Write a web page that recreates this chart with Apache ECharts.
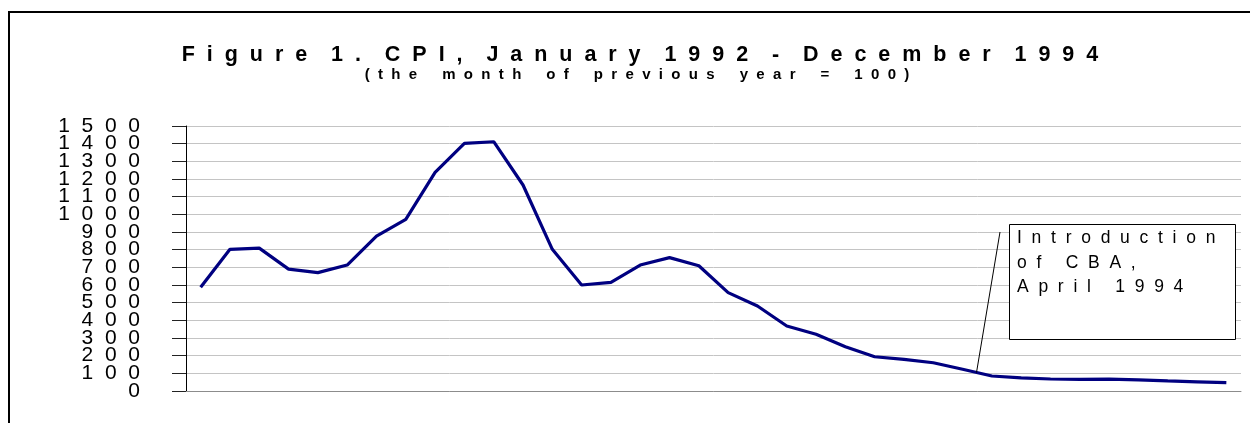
<!DOCTYPE html>
<html>
<head>
<meta charset="utf-8">
<title>CPI 1992-1994</title>
<script src="https://cdn.jsdelivr.net/npm/echarts@6/dist/echarts.min.js"></script>
<style>
  html, body { margin: 0; padding: 0; background: #fff; }
  #chart { width: 1250px; height: 423px; }
</style>
</head>
<body>
<div id="chart"></div>
<script>
// months Jan 1992 .. Dec 1994
var months = [
  '1992-01', '1992-02', '1992-03', '1992-04', '1992-05', '1992-06',
  '1992-07', '1992-08', '1992-09', '1992-10', '1992-11', '1992-12',
  '1993-01', '1993-02', '1993-03', '1993-04', '1993-05', '1993-06',
  '1993-07', '1993-08', '1993-09', '1993-10', '1993-11', '1993-12',
  '1994-01', '1994-02', '1994-03', '1994-04', '1994-05', '1994-06',
  '1994-07', '1994-08', '1994-09', '1994-10', '1994-11', '1994-12'
];
// CPI, same month of previous year = 100
var cpi = [
  587, 802, 809, 690, 670, 713, 877, 972, 1238, 1402, 1411, 1166,
  802, 600, 615, 713, 755, 709, 557, 481, 368, 321, 251, 194,
  179, 160, 123, 85, 74, 68, 66, 67, 63, 57, 52, 47
];
var yMin = 0;
var yMax = 1500;
var yStep = 100;
var yTicks = [0, 100, 200, 300, 400, 500, 600, 700, 800, 900, 1000, 1100, 1200, 1300, 1400, 1500];

var titleText = 'Figure 1. CPI, January 1992 - December 1994';
var subText = '(the month of previous year = 100)';
var noteLines = ['Introduction', 'of CBA,', 'April 1994'];

var fontFamily = '"Liberation Sans", Arial, sans-serif';

// the original has very wide letter spacing, imitate it with spaces
function spread(str, letterGap, wordGap) {
  return str.split(' ').map(function (w) {
    return w.split('').join(letterGap);
  }).join(wordGap);
}

var myChart = echarts.init(document.getElementById('chart'), null, { renderer: 'canvas' });

var option = {
  animation: false,
  backgroundColor: '#fff',
  grid: {
    left: 186,
    right: 9,
    top: 126,
    bottom: 32,
    containLabel: false
  },
  xAxis: {
    type: 'category',
    data: months,
    boundaryGap: true,
    axisLine: { show: true, onZero: true, lineStyle: { color: '#8c8c8c', width: 1 } },
    axisTick: { show: false },
    axisLabel: { show: false },
    splitLine: { show: false }
  },
  yAxis: {
    type: 'value',
    min: yMin,
    max: yMax,
    interval: yStep,
    axisLine: { show: true, lineStyle: { color: '#000', width: 1 } },
    axisTick: { show: true, inside: false, length: 14, lineStyle: { color: '#222' } },
    // the labels overlap each other in the original, echarts would drop some,
    // so they are drawn below as graphic texts at the axis positions
    axisLabel: { show: false },
    splitLine: { show: true, showMinLine: true, showMaxLine: true, lineStyle: { color: '#c4c4c4', width: 1 } }
  },
  series: [{
    name: 'CPI',
    type: 'line',
    data: cpi,
    symbol: 'none',
    smooth: false,
    lineStyle: { color: '#000080', width: 3.2 },
    itemStyle: { color: '#000080' },
    z: 3
  }],
  graphic: {
    elements: [
      {
        id: 'frame',
        type: 'rect',
        silent: true,
        z: 100,
        shape: { x: 9, y: 12, width: 1400, height: 600 },
        style: { fill: 'none', stroke: '#000', lineWidth: 2 }
      },
      {
        id: 'title',
        type: 'text',
        silent: true,
        z: 100,
        x: 640,
        y: 55,
        style: {
          text: spread(titleText, '  ', '    '),
          fill: '#000',
          fontSize: 21.5,
          fontWeight: 'bold',
          fontFamily: fontFamily,
          align: 'center',
          verticalAlign: 'middle',
          textAlign: 'center',
          textVerticalAlign: 'middle'
        }
      },
      {
        id: 'subtitle',
        type: 'text',
        silent: true,
        z: 100,
        x: 637,
        y: 75,
        style: {
          text: spread(subText, '  ', '      '),
          fill: '#000',
          fontSize: 15,
          fontWeight: 'bold',
          fontFamily: fontFamily,
          align: 'center',
          verticalAlign: 'middle',
          textAlign: 'center',
          textVerticalAlign: 'middle'
        }
      },
      {
        id: 'notePointer',
        type: 'line',
        silent: true,
        z: 100,
        shape: { x1: 976.5, y1: 372.5, x2: 1000, y2: 232 },
        style: { stroke: '#000', lineWidth: 1 }
      },
      {
        id: 'noteBox',
        type: 'rect',
        silent: true,
        z: 100,
        shape: { x: 1009.5, y: 224.5, width: 226, height: 115 },
        style: { fill: '#fff', stroke: '#000', lineWidth: 1 }
      },
      {
        id: 'noteText',
        type: 'text',
        silent: true,
        z: 101,
        x: 1017,
        y: 226,
        style: {
          text: noteLines.map(function (l) { return spread(l, '  ', '     '); }).join('\n'),
          fill: '#000',
          fontSize: 17.5,
          lineHeight: 24.5,
          fontFamily: fontFamily,
          align: 'left',
          verticalAlign: 'top',
          textAlign: 'left',
          textVerticalAlign: 'top'
        }
      }
    ]
  }
};

myChart.setOption(option);

// y tick labels, placed with the axis' own scale
var labelRight = 140;
var tickLabels = yTicks.map(function (v) {
  return {
    id: 'ylabel' + v,
    type: 'text',
    silent: true,
    z: 100,
    x: labelRight,
    y: myChart.convertToPixel({ yAxisIndex: 0 }, v),
    style: {
      text: String(v).split('').join('  '),
      fill: '#000',
      fontSize: 21,
      fontFamily: fontFamily,
      align: 'right',
      verticalAlign: 'middle',
      textAlign: 'right',
      textVerticalAlign: 'middle'
    }
  };
});
myChart.setOption({ graphic: { elements: tickLabels } });

window.onresize = myChart.resize;
</script>
</body>
</html>
